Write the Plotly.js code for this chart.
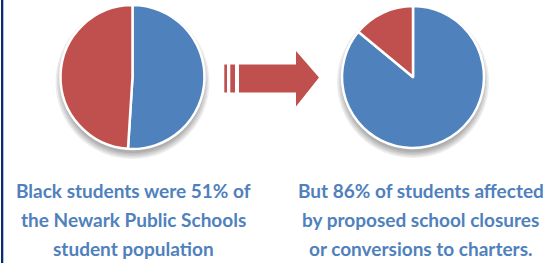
<!DOCTYPE html>
<html>
<head>
<meta charset="utf-8">
<script src="https://cdn.plot.ly/plotly-3.0.1.min.js"></script>
<style>
  html, body { margin: 0; padding: 0; background: #ffffff; }
  #chart { width: 552px; height: 263px; }
</style>
</head>
<body>
<div id="chart"></div>
<script>
// Data
const groups = ['Black students', 'Other students'];
const populationShare = [51, 49];
const affectedShare = [86, 14];
const captionLeft = ['Black students were 51% of', 'the Newark Public Schools', 'student population'];
const captionRight = ['But 86% of students affected', 'by proposed school closures', 'or conversions to charters.'];

const W = 552, H = 263;
const BLUE = '#4F81BD', RED = '#C0504D', TEXT = '#4F81BD';
const px = x => x / W;
const py = y => 1 - y / H;

const pies = [{ cx: 132.5, cy: 77, r: 72 }, { cx: 413, cy: 77, r: 71 }];

function pieDomain(p) {
  return { x: [px(p.cx - p.r), px(p.cx + p.r)], y: [py(p.cy + p.r), py(p.cy - p.r)] };
}

const pieCommon = {
  type: 'pie',
  labels: groups,
  sort: false,
  direction: 'clockwise',
  rotation: 0,
  textinfo: 'none',
  hoverinfo: 'label+percent',
  showlegend: false,
  marker: { colors: [BLUE, RED], line: { color: '#ffffff', width: 2.5 } }
};

const traces = [
  Object.assign({}, pieCommon, { values: populationShare, domain: pieDomain(pies[0]) }),
  Object.assign({}, pieCommon, { values: affectedShare, domain: pieDomain(pies[1]) })
];

// Arrow shape (decoration)
function arrowPath() {
  const pts = [[239, 64.5], [296, 64.5], [296, 51], [319, 77.5], [296, 106.5], [296, 92.5], [239, 92.5]];
  return 'M ' + pts.map(p => px(p[0]) + ',' + py(p[1])).join(' L ') + ' Z';
}

const shapes = [
  { type: 'rect', xref: 'paper', yref: 'paper', x0: px(1), x1: px(3.3), y0: 0, y1: 1, fillcolor: '#0b2a6f', line: { width: 0 } },
  { type: 'rect', xref: 'paper', yref: 'paper', x0: px(224.3), x1: px(227), y0: py(92.5), y1: py(64.5), fillcolor: RED, line: { width: 0 } },
  { type: 'rect', xref: 'paper', yref: 'paper', x0: px(230.3), x1: px(235), y0: py(92.5), y1: py(64.5), fillcolor: RED, line: { width: 0 } },
  { type: 'path', xref: 'paper', yref: 'paper', path: arrowPath(), fillcolor: RED, line: { width: 0 } }
];

// soft drop shadow under each pie (stacked translucent circles)
pies.forEach(p => {
  [7, 5.5, 4, 2.5, 1].forEach(e => {
    const dy = 5, r = p.r + e - 2;
    shapes.push({ type: 'circle', xref: 'paper', yref: 'paper', layer: 'below',
      x0: px(p.cx - r), x1: px(p.cx + r), y0: py(p.cy + dy + r), y1: py(p.cy + dy - r),
      fillcolor: 'rgba(0,0,0,0.07)', line: { width: 0 } });
  });
});

const font = { family: 'Lato, "Open Sans", sans-serif', size: 19, color: TEXT, weight: 'bold' };
const lineY = [190, 219.5, 248.5];
const annotations = [];
captionLeft.forEach((t, i) => annotations.push({ text: '<b>' + t + '</b>', x: px(133.5), y: py(lineY[i]), xref: 'paper', yref: 'paper', xanchor: 'center', yanchor: 'middle', showarrow: false, font: font }));
captionRight.forEach((t, i) => annotations.push({ text: '<b>' + t + '</b>', x: px(421), y: py(lineY[i]), xref: 'paper', yref: 'paper', xanchor: 'center', yanchor: 'middle', showarrow: false, font: font }));

const layout = {
  width: W, height: H,
  margin: { l: 0, r: 0, t: 0, b: 0 },
  paper_bgcolor: '#ffffff',
  plot_bgcolor: '#ffffff',
  shapes: shapes,
  annotations: annotations
};

Plotly.newPlot('chart', traces, layout, { displayModeBar: false, staticPlot: true });
</script>
</body>
</html>
